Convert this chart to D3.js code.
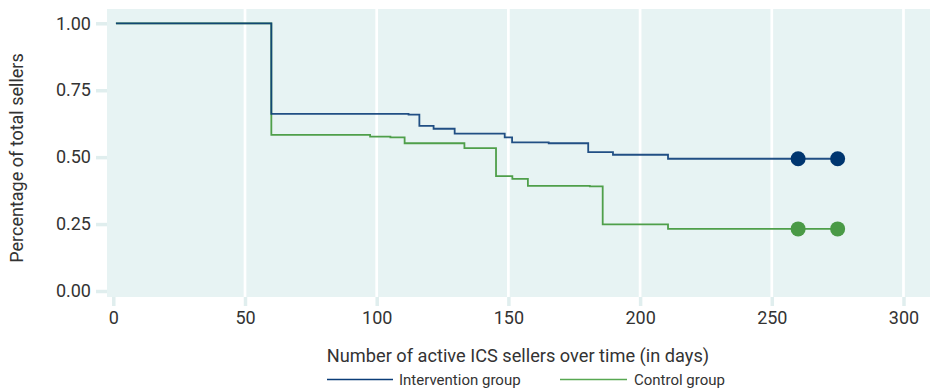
<!DOCTYPE html>
<html><head><meta charset="utf-8">
<script src="https://cdn.jsdelivr.net/npm/d3@7"></script>
<style>body{margin:0;background:#fff;} text{font-family:Roboto,"Noto Sans",sans-serif;}</style>
</head><body><svg id="c" width="930" height="390"></svg>
<script>
// Kaplan-Meier style step data: [day, survival]
const interventionDays = [1, 60, 112.1, 116.2, 121.6, 129.6, 148.6, 151.4, 165.3, 180.3, 189.7, 210.6, 275];
const interventionVals = [1.0, 0.662, 0.659, 0.617, 0.606, 0.588, 0.574, 0.555, 0.552, 0.519, 0.509, 0.494, 0.494];
const controlDays = [1, 60, 97.5, 105.2, 110.6, 133.3, 145.3, 151.5, 157.4, 180.9, 185.8, 210.6, 275];
const controlVals = [1.0, 0.583, 0.577, 0.574, 0.552, 0.534, 0.429, 0.419, 0.393, 0.391, 0.249, 0.232, 0.232];
const censorDays = [260, 275];
const xTicks = [0, 50, 100, 150, 200, 250, 300];
const yTicks = [0, 0.25, 0.5, 0.75, 1.0];
const seriesNames = ["Intervention group", "Control group"];

const svg = d3.select("#c");
const x = d3.scaleLinear().domain([0, 300]).range([113.3, 903.5]);
const y = d3.scaleLinear().domain([0, 1]).range([291, 23.3]);
const plot = {l: 107, r: 930, t: 9, b: 297};

svg.append("rect").attr("x", plot.l).attr("y", plot.t).attr("width", plot.r - plot.l).attr("height", plot.b - plot.t).attr("fill", "#e7f3f3");

// vertical gridlines
svg.append("g").selectAll("line").data(xTicks.filter(d => d > 0)).join("line")
  .attr("x1", d => x(d)).attr("x2", d => x(d)).attr("y1", plot.t).attr("y2", plot.b)
  .attr("stroke", "#fff").attr("stroke-width", 2.7);

// y axis
const yAxis = d3.axisLeft(y).tickValues(yTicks).tickFormat(d3.format(".2f")).tickSize(11).tickPadding(5);
const gy = svg.append("g").attr("transform", `translate(${plot.l},0)`).call(yAxis);
gy.select(".domain").remove();
gy.selectAll(".tick line").attr("stroke", "#e0eeee").attr("stroke-width", 3.5);
gy.selectAll(".tick text").attr("font-size", 18).attr("fill", "#333").attr("font-family", "Roboto");

// x axis
const xAxis = d3.axisBottom(x).tickValues(xTicks).tickFormat(d3.format("d")).tickSize(9).tickPadding(5);
const gx = svg.append("g").attr("transform", `translate(0,${plot.b})`).call(xAxis);
gx.select(".domain").remove();
gx.selectAll(".tick line").attr("stroke", "#e0eeee").attr("stroke-width", 3.5);
gx.selectAll(".tick text").attr("font-size", 18).attr("fill", "#333").attr("font-family", "Roboto");

const line = d3.line().x(d => x(d[0])).y(d => y(d[1])).curve(d3.curveStepAfter);
const ctrl = controlDays.map((d, i) => [d, controlVals[i]]);
const intv = interventionDays.map((d, i) => [d, interventionVals[i]]);
const colors = {int: "#0b3d78", ctrl: "#4f9f4a"};

svg.append("path").datum(ctrl).attr("d", line).attr("fill", "none").attr("stroke", colors.ctrl).attr("stroke-width", 1.8);
svg.append("path").datum(intv).attr("d", line).attr("fill", "none").attr("stroke", colors.int).attr("stroke-width", 1.8).attr("stroke-opacity", 0.9);

const lastInt = interventionVals[interventionVals.length - 1];
const lastCtrl = controlVals[controlVals.length - 1];
svg.append("g").selectAll("circle").data(censorDays).join("circle")
  .attr("cx", d => x(d)).attr("cy", y(lastInt)).attr("r", 7.5).attr("fill", "#00356f");
svg.append("g").selectAll("circle").data(censorDays).join("circle")
  .attr("cx", d => x(d)).attr("cy", y(lastCtrl)).attr("r", 7.5).attr("fill", "#4a9a46");

// axis titles
svg.append("text").attr("x", 518).attr("y", 362).attr("text-anchor", "middle").attr("font-size", 18.2).attr("fill", "#333")
  .text("Number of active ICS sellers over time (in days)");
svg.append("text").attr("transform", "translate(23,158) rotate(-90)").attr("text-anchor", "middle").attr("font-size", 18).attr("fill", "#333")
  .text("Percentage of total sellers");

// legend
const leg = [{name: seriesNames[0], c: colors.int, x0: 327, x1: 393, tx: 399},
             {name: seriesNames[1], c: "#58a852", x0: 560, x1: 627, tx: 634}];
const lg = svg.append("g");
leg.forEach(l => {
  lg.append("line").attr("x1", l.x0).attr("x2", l.x1).attr("y1", 379.5).attr("y2", 379.5).attr("stroke", l.c).attr("stroke-width", 1.5);
  lg.append("text").attr("x", l.tx).attr("y", 385).attr("font-size", 15).attr("fill", "#333").text(l.name);
});
</script></body></html>
